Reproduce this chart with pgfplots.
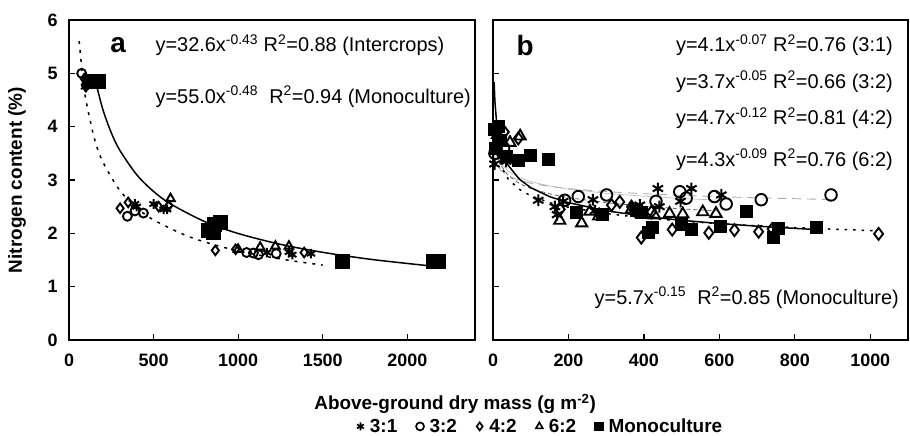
\documentclass[border=0pt]{standalone}
\usepackage{fontspec}
\setmainfont{Liberation Sans}
\usepackage{pgfplots}
\pgfplotsset{compat=1.18}
\newcommand{\tickf}{\fontsize{18}{20}\selectfont\bfseries}
\newcommand{\annf}{\fontsize{20}{22}\selectfont}
\begin{document}
\begin{tikzpicture}
\useasboundingbox (0,0) rectangle (910bp,436bp);
\pgfplotsset{
  common/.style={
    scale only axis, height=320bp, anchor=south west,
    xmin=0, ymin=0, ymax=6, ytick={0,1,...,6},
    tick align=inside, tick pos=left,
    axis line style={line width=1.5pt},
    major tick style={line width=1.2pt, black},
    major tick length=6bp,
    clip=false, scaled ticks=false,
    /pgf/number format/1000 sep={},
    /pgf/number format/assume math mode=true,
    ticklabel style={font=\tickf},
    xticklabel style={yshift=-10bp},
    yticklabel style={xshift=-8bp},
  },
  s31/.style={only marks, mark=asterisk, mark size=#1, black, mark options={line width=2pt, solid}},
  s32/.style={only marks, mark=o, mark size=#1, black, mark options={line width=1.9pt, solid}},
  s42/.style={only marks, mark=diamond, mark size=#1, black, mark options={line width=1.9pt, solid}},
  s62/.style={only marks, mark=triangle, mark size=#1, black, mark options={line width=1.9pt, solid}},
  smo/.style={only marks, mark=square*, mark size=#1, black},
}

% ---------------- panel a ----------------
\begin{axis}[common, at={(69bp,96bp)}, width=406bp,
  xmax=2400, xtick={0,500,...,2000},
  ylabel={Nitrogen content (\%)},
  ylabel style={at={(axis description cs:-0.128,0.5)}, anchor=center, font=\fontsize{19}{21}\selectfont\bfseries},
  xlabel={Above-ground dry mass (g m\textsuperscript{-2})},
  xlabel style={at={(axis description cs:0.951,-0.2)}, anchor=center, font=\fontsize{19}{21}\selectfont\bfseries},
]
% fitted curves
\addplot[black, line width=1.5pt, dash pattern=on 3pt off 6pt, smooth] coordinates {
 (60,5.605)(80,4.953)(100,4.500)(150,3.780)(200,3.340)(300,2.806)(400,2.479)(500,2.252)
 (700,1.949)(900,1.749)(1100,1.605)(1300,1.494)(1500,1.404)};
\addplot[black, line width=1.5pt, smooth] coordinates {
 (160,4.812)(200,4.324)(250,3.885)(300,3.559)(400,3.100)(500,2.785)(600,2.552)(800,2.223)
 (1000,1.997)(1250,1.794)(1500,1.644)(1800,1.506)(2200,1.368)};
% data
\addplot[s31=4.8pt] coordinates {(95,4.75)(120,4.80)(390,2.55)(400,2.50)(500,2.55)(560,2.45)(580,2.45)(1170,1.64)(1300,1.65)(1320,1.60)(1430,1.62)};
\addplot[s32=4.5pt] coordinates {(75,5.00)(110,4.85)(345,2.32)(390,2.42)(440,2.38)(1050,1.64)(1090,1.63)(1120,1.60)(1225,1.62)};
\addplot[s42=4.8pt] coordinates {(90,4.90)(100,4.75)(302,2.47)(350,2.58)(530,2.50)(590,2.52)(865,1.68)(985,1.70)(1390,1.64)};
\addplot[s62=5pt] coordinates {(105,4.85)(130,4.80)(600,2.65)(1000,1.70)(1130,1.74)(1220,1.76)(1300,1.76)};
\addplot[smo=7pt] coordinates {(150,4.85)(170,4.85)(820,2.05)(850,2.02)(860,2.17)(895,2.20)(1615,1.47)(2150,1.47)(2185,1.47)};
\node[font=\fontsize{28}{28}\selectfont\bfseries] at (axis cs:290,5.53) {a};
\node[anchor=west, font=\annf] at (axis cs:491,5.53) {y=32.6x\textsuperscript{-0.43} R\textsuperscript{2}=0.88 (Intercrops)};
\node[anchor=west, font=\annf] at (axis cs:491,4.56) {y=55.0x\textsuperscript{-0.48}\ \ R\textsuperscript{2}=0.94 (Monoculture)};
\end{axis}

% ---------------- panel b ----------------
\begin{axis}[common, at={(493bp,96bp)}, width=415bp,
  xmax=1100, xtick={0,200,...,1000}, yticklabels={},
  legend style={at={(axis description cs:0.113,-0.27)}, anchor=center, draw=none, fill=none,
    legend columns=5, font=\fontsize{19}{21}\selectfont\bfseries,
    /tikz/every even column/.append style={column sep=16bp}},
  legend image code/.code={\path (0cm,0cm) (0.42cm,0cm); \draw[#1,mark size=4pt,mark options={line width=1.7pt}] plot coordinates {(0.16cm,0cm)};},
]
% fitted curves
\addplot[gray!50, line width=0.7pt, forget plot] coordinates {
 (3,3.797)(5,3.663)(10,3.490)(20,3.324)(40,3.167)(70,3.045)(100,2.970)(150,2.887)(200,2.830)
 (300,2.750)(400,2.696)(500,2.654)(610,2.617)};
\addplot[gray!65, line width=0.9pt, dash pattern=on 9pt off 6pt, forget plot] coordinates {
 (3,3.502)(5,3.414)(10,3.298)(20,3.185)(40,3.077)(70,2.992)(100,2.939)(150,2.880)(200,2.839)
 (300,2.782)(400,2.742)(500,2.712)(600,2.687)(700,2.666)(900,2.633)};
\addplot[black, line width=1.5pt, dash pattern=on 2.5pt off 6pt, forget plot] coordinates {
 (3,4.120)(5,3.875)(10,3.565)(20,3.281)(40,3.019)(70,2.823)(100,2.705)(150,2.576)(200,2.489)
 (300,2.370)(400,2.290)(500,2.230)(600,2.181)(700,2.142)(850,2.092)(1020,2.047)};
\addplot[gray!80!black, line width=0.8pt, dash pattern=on 4pt off 3pt, forget plot] coordinates {
 (3,3.895)(5,3.720)(10,3.495)(20,3.284)(40,3.085)(70,2.934)(100,2.841)(150,2.739)(200,2.669)
 (300,2.574)(400,2.508)(500,2.458)(600,2.418)};
\addplot[black, line width=1.5pt, forget plot] coordinates {
 (3,4.834)(5,4.478)(10,4.036)(20,3.637)(40,3.278)(70,3.014)(100,2.857)(150,2.688)(200,2.575)
 (300,2.423)(400,2.321)(500,2.244)(600,2.184)(700,2.134)(860,2.069)};
% data
\addplot[s31=6pt] coordinates {(4,3.30)(12,3.55)(25,3.45)(35,3.35)(120,2.62)(164,2.50)(170,2.35)(186,2.60)(265,2.63)(270,2.42)(389,2.53)(437,2.84)(441,2.50)(497,2.60)(526,2.84)(605,2.72)};
\addlegendentry{3:1}
\addplot[s32=5.8pt] coordinates {(5,3.50)(15,3.75)(28,3.60)(190,2.62)(226,2.69)(301,2.72)(432,2.60)(495,2.78)(512,2.66)(587,2.69)(618,2.55)(711,2.63)(896,2.72)};
\addlegendentry{3:2}
\addplot[s42=6pt] coordinates {(8,3.65)(30,3.90)(67,3.78)(178,2.45)(314,2.53)(336,2.59)(367,2.50)(393,1.92)(420,2.40)(475,2.07)(572,2.01)(640,2.06)(704,2.03)(740,2.08)(1022,1.99)};
\addlegendentry{4:2}
\addplot[s62=6.5pt] coordinates {(12,3.85)(45,3.70)(72,3.82)(177,2.24)(235,2.19)(257,2.41)(280,2.32)(367,2.45)(428,2.34)(468,2.37)(503,2.36)(556,2.40)(591,2.37)};
\addlegendentry{6:2}
\addplot[smo=6pt] coordinates {(3,3.95)(6,3.60)(15,4.00)(20,3.75)(35,3.45)(67,3.38)(98,3.47)(146,3.39)(220,2.40)(290,2.36)(380,2.44)(394,2.40)(411,2.02)(422,2.12)(499,2.18)(526,2.08)(603,2.13)(671,2.42)(742,1.92)(755,2.09)(856,2.12)};
\addlegendentry{Monoculture}
\node[font=\fontsize{28}{28}\selectfont\bfseries] at (axis cs:85,5.53) {b};
\node[anchor=east, font=\annf] at (axis cs:1069,5.53) {y=4.1x\textsuperscript{-0.07} R\textsuperscript{2}=0.76 (3:1)};
\node[anchor=east, font=\annf] at (axis cs:1069,4.84) {y=3.7x\textsuperscript{-0.05} R\textsuperscript{2}=0.66 (3:2)};
\node[anchor=east, font=\annf] at (axis cs:1069,4.16) {y=4.7x\textsuperscript{-0.12} R\textsuperscript{2}=0.81 (4:2)};
\node[anchor=east, font=\annf] at (axis cs:1069,3.38) {y=4.3x\textsuperscript{-0.09} R\textsuperscript{2}=0.76 (6:2)};
\node[anchor=east, font=\annf] at (axis cs:1085,0.79) {y=5.7x\textsuperscript{-0.15}\ \ R\textsuperscript{2}=0.85 (Monoculture)};
\end{axis}
\end{tikzpicture}
\end{document}
